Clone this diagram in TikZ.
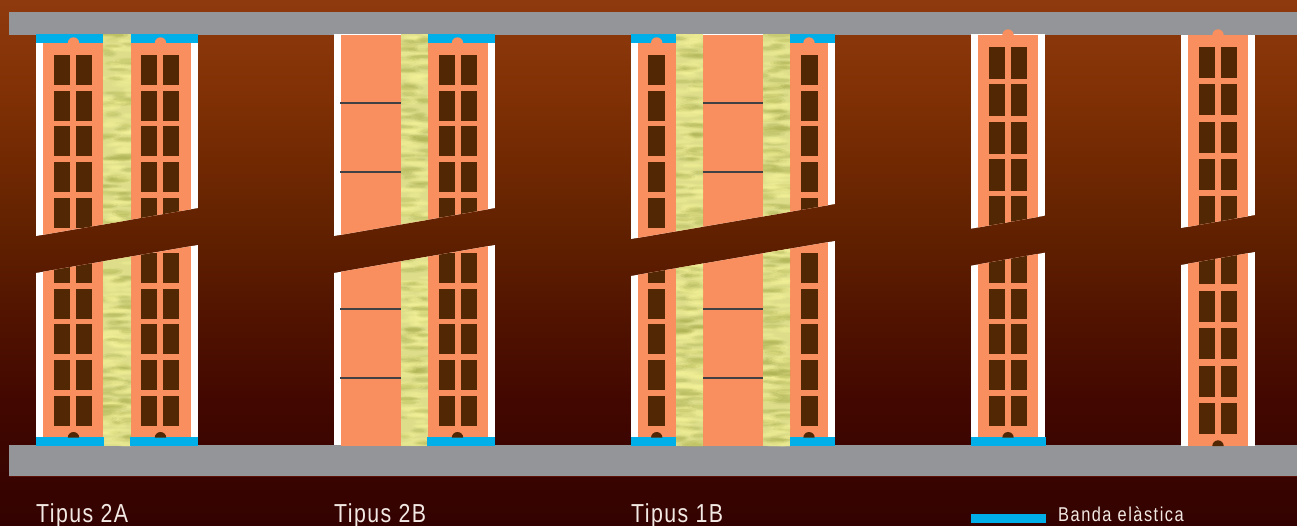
\documentclass[tikz,border=0pt]{standalone}
\usepackage{fontspec}
\setmainfont{Liberation Sans}
\newfontfamily\labfont[FakeStretch=0.82,LetterSpace=5.5]{Liberation Sans}
\newfontfamily\legfont[FakeStretch=0.82,LetterSpace=7.5]{Liberation Sans}
\definecolor{brick}{HTML}{F98E5E}
\definecolor{holec}{HTML}{522703}
\definecolor{band}{HTML}{00AEE8}
\definecolor{slab}{HTML}{939598}
\definecolor{tie}{HTML}{414042}
\definecolor{ins}{HTML}{DDDD8A}
\definecolor{insd}{HTML}{A9AE4E}
\definecolor{insl}{HTML}{F8F69C}
\definecolor{txt}{HTML}{F2E9E4}
\definecolor{edgeline}{HTML}{5A1208}
\pgfdeclareverticalshading{bgs}{100bp}{rgb(0bp)=(.2,.008,0); rgb(25bp)=(.2,.008,0); rgb(36.9bp)=(.26,.028,0); rgb(46.43bp)=(.33,.086,0); rgb(52.14bp)=(.373,.125,0); rgb(65.48bp)=(.498,.188,.016); rgb(75bp)=(.561,.227,.055); rgb(100bp)=(.561,.227,.055)}
\tikzset{
  wallw/.style={fill=white},
  brk/.style={fill=brick},
  hole/.style={fill=holec},
  belt/.style={fill=band},
  tiebar/.style={draw=tie,line width=1.5pt},
  lab/.style={anchor=base west,inner sep=0,text=txt,font=\labfont\fontsize{26}{26}\selectfont},
  leg/.style={anchor=base west,inner sep=0,text=txt,font=\legfont\fontsize{20}{20}\selectfont},
}
\newcommand\holeset[4]{\foreach \hx in {#1}{\foreach \hy in {#2}{\fill[hole] (\hx,\hy) rectangle ++(#3,#4);}}}
\newcommand\insul[4]{\begin{scope}
  \clip (#1,#3) rectangle (#2,#4);
  \fill[ins] (#1,#3) rectangle (#2,#4);
  \foreach \k in {1,...,280}{
    \pgfmathsetmacro\ex{#1+rnd*(#2-#1)}
    \pgfmathsetmacro\ey{#3+rnd*(#4-#3)}
    \pgfmathsetmacro\er{7+rnd*10}
    \pgfmathsetmacro\es{1.2+rnd*1.0}
    \pgfmathparse{rnd<0.45?"insd":"insl"}
    \edef\ec{\pgfmathresult}
    \fill[\ec,opacity=.16] (\ex,\ey) ellipse[x radius=\er pt,y radius=\es*1.7 pt];
    \fill[\ec,opacity=.26] (\ex,\ey) ellipse[x radius=.7*\er pt,y radius=\es pt];
  }
  \end{scope}}
\newcommand\bumpup[3]{\fill[#3] ({#1-5.7},#2) arc[start angle=180,end angle=0,radius=5.7pt] -- cycle;}
% clip that keeps a wall above and below the sloping floor gap
\newcommand\gapclip[4]{\clip (#1,0) -- (#3,0) -- (#3,#4) -- (#1,#2) -- cycle
   (#1,{#2+37}) -- (#3,{#4+37}) -- (#3,525) -- (#1,525) -- cycle;}
\begin{document}
\begin{tikzpicture}[x=1pt,y=-1pt]
\useasboundingbox (0,0) rectangle (1297,525);
\pgfmathsetseed{4711}
\fill[shading=bgs] (0,0) rectangle (1297,525);
% slabs
\fill[slab] (9,12) rectangle (1297,35);
\fill[slab] (9,445) rectangle (1297,476);
\fill[edgeline] (9,476) rectangle (1297,476.6);
% Tipus 2A
\begin{scope}
\gapclip{36}{236}{198}{208}
\fill[wallw] (36,34) rectangle (198,445);
\fill[brk] (43,34) rectangle (191,445.5);
\insul{103}{131}{34}{446}
\holeset{54,76,141,163}{55,91,126,162,198,253,289,324,360,396}{16}{30}
\fill[belt] (36,34) rectangle (103,43);
\fill[belt] (131,34) rectangle (198,43);
\fill[belt] (36,437) rectangle (104,445.5);
\fill[belt] (130,437) rectangle (198,445.5);
\bumpup{73.5}{43}{brick}\bumpup{160.5}{43}{brick}
\bumpup{73.5}{437.7}{holec}\bumpup{160.5}{437.7}{holec}
\end{scope}
% Tipus 2B
\begin{scope}
\gapclip{334}{236}{495}{208}
\fill[wallw] (334,34) rectangle (495,445);
\fill[brk] (341,35) rectangle (488,445.5);
\insul{401}{428}{34}{446}
\holeset{439,461}{55,91,126,162,198,253,289,324,360,396}{16}{30}
\fill[belt] (428,34) rectangle (495,43);
\fill[belt] (427,437) rectangle (495,445.5);
\bumpup{457.5}{43}{brick}
\bumpup{457.5}{437.7}{holec}
\foreach \ty in {103,172,309,378}{\draw[tiebar] (340,\ty) -- (401,\ty);}
\end{scope}
% Tipus 1B
\begin{scope}
\gapclip{631}{239}{835}{204}
\fill[wallw] (631,34) rectangle (835,445);
\fill[brk] (638,35) rectangle (828,445.5);
\insul{676}{703}{34}{446}
\insul{763}{790}{34}{446}
\holeset{648,801}{55,91,126,162,198,253,289,324,360,396}{17}{30}
\fill[belt] (631,34) rectangle (676,43);
\fill[belt] (790,34) rectangle (835,43);
\fill[belt] (631,437) rectangle (675.5,445.5);
\fill[belt] (790,437) rectangle (835,445.5);
\bumpup{656.7}{43}{brick}\bumpup{809}{43}{brick}
\bumpup{656.7}{437.7}{holec}\bumpup{809}{437.7}{holec}
\foreach \ty in {103,172,309,378}{\draw[tiebar] (703,\ty) -- (763,\ty);}
\end{scope}
% fourth wall
\begin{scope}
\gapclip{971}{228.7}{1046}{215.5}
\fill[wallw] (971,34) rectangle (1045,445);
\fill[brk] (978,35) rectangle (1038,445);
\holeset{989,1011}{47,84,122,159,196}{16}{31.5}
\holeset{989,1011}{253,289,324,360,396}{16}{30}
\fill[belt] (971,437) rectangle (1046,445.5);
\bumpup{1008}{35}{brick}
\bumpup{1008}{437.7}{holec}
\end{scope}
% fifth wall
\begin{scope}
\gapclip{1181}{228}{1255}{215}
\fill[wallw] (1181,35) rectangle (1255,446);
\fill[brk] (1188,35) rectangle (1248,446);
\holeset{1199,1221}{47,84,122,159,196,253,290.5,328,365.5,403}{16}{31}
\bumpup{1218}{35}{brick}
\bumpup{1218}{446}{holec}
\end{scope}
% labels
\node[lab] (t2a) at (36,522.7) {Tipus 2A};
\node[lab] (t2b) at (334,522.7) {Tipus 2B};
\node[lab] (t1b) at (631,522.7) {Tipus 1B};
\fill[belt] (971,514) rectangle (1046,523);
\node[leg] (tb) at (1058,521.7) {Banda elàstica};
\end{tikzpicture}
\end{document}
